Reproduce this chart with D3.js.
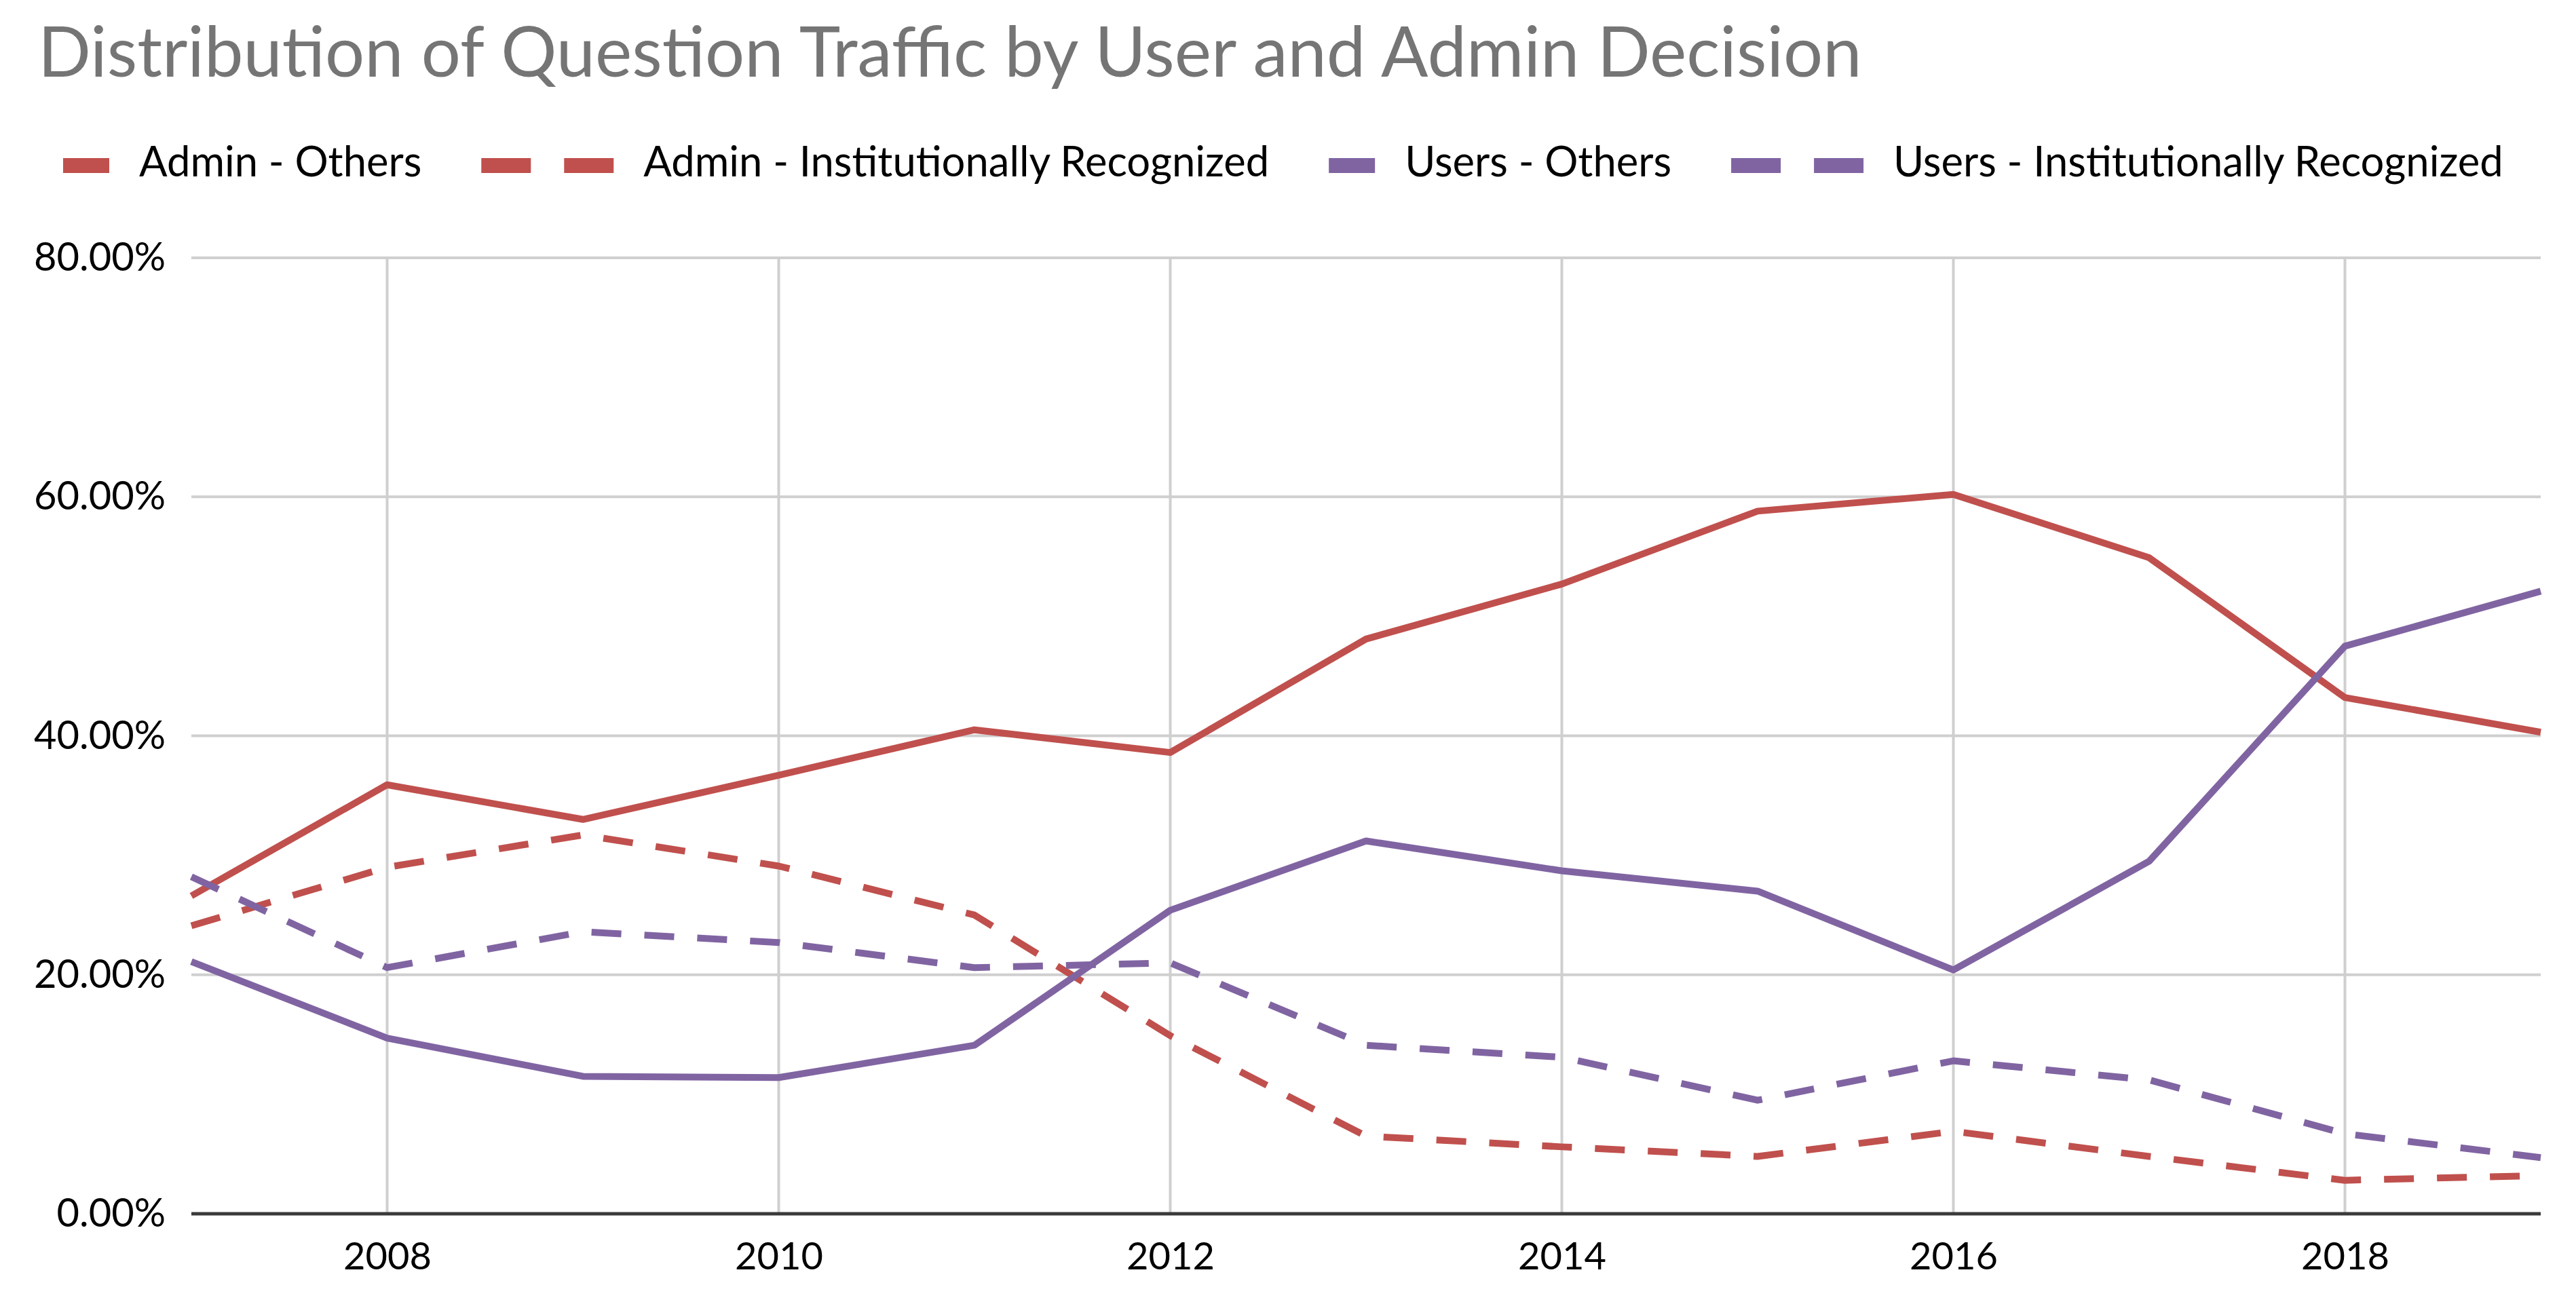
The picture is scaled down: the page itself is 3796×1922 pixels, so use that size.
<!DOCTYPE html>
<html>
<head>
<meta charset="utf-8">
<script src="https://cdn.jsdelivr.net/npm/d3@7"></script>
<style>
  body { margin: 0; background: #fff; }
  text { font-family: Lato, "Open Sans", sans-serif; }
</style>
</head>
<body>
<div id="chart"></div>
<script>
  // Chart values.
  var YEARS = [2007, 2008, 2009, 2010, 2011, 2012, 2013, 2014, 2015, 2016, 2017, 2018, 2019];
  var ADMIN_OTHERS = [26.6, 35.9, 33.0, 36.7, 40.5, 38.6, 48.1, 52.7, 58.8, 60.2, 54.9, 43.2, 40.3];
  var ADMIN_RECOGNIZED = [24.1, 29.0, 31.7, 29.1, 25.0, 14.9, 6.5, 5.6, 4.8, 6.9, 4.8, 2.8, 3.2];
  var USERS_OTHERS = [21.1, 14.7, 11.5, 11.4, 14.1, 25.4, 31.2, 28.7, 27.0, 20.4, 29.5, 47.5, 52.1];
  var USERS_RECOGNIZED = [28.2, 20.6, 23.6, 22.7, 20.6, 21.0, 14.1, 13.1, 9.5, 12.8, 11.2, 6.7, 4.7];
  var SERIES_NAMES = ['Admin - Others', 'Admin - Institutionally Recognized',
                      'Users - Others', 'Users - Institutionally Recognized'];
  var X_TICKS = [2008, 2010, 2012, 2014, 2016, 2018];
  var Y_TICKS = [0, 20, 40, 60, 80];
  var TITLE = 'Distribution of Question Traffic by User and Admin Decision';

  // Component dimensions.
  var WIDTH = 3796;
  var HEIGHT = 1922;
  var PLOT_LEFT = 282;
  var PLOT_RIGHT = 3744;
  var PLOT_TOP = 380;
  var PLOT_BOTTOM = 1789;

  // Palette.
  var RED = '#c0504d';
  var PURPLE = '#8064a2';
  var DASH = '44 34';

  var series = [
    {name: SERIES_NAMES[0], values: ADMIN_OTHERS, color: RED, dashed: false},
    {name: SERIES_NAMES[1], values: ADMIN_RECOGNIZED, color: RED, dashed: true},
    {name: SERIES_NAMES[2], values: USERS_OTHERS, color: PURPLE, dashed: false},
    {name: SERIES_NAMES[3], values: USERS_RECOGNIZED, color: PURPLE, dashed: true}
  ];

  // Font size that makes a text node fill the given width.
  function fitSize(node, targetWidth) {
    var sel = d3.select(node);
    var old = sel.attr('font-size');
    sel.attr('font-size', 100);
    var w = node.getComputedTextLength();
    sel.attr('font-size', old);
    return 100 * targetWidth / w;
  }

  function main() {
    var svg = d3.select('#chart').append('svg')
      .attr('width', WIDTH)
      .attr('height', HEIGHT);
    svg.append('rect').attr('width', WIDTH).attr('height', HEIGHT).attr('fill', '#fff');

    var x = d3.scaleLinear().domain([YEARS[0], YEARS[YEARS.length - 1]])
      .range([PLOT_LEFT, PLOT_RIGHT]);
    var y = d3.scaleLinear().domain([0, 80]).range([PLOT_BOTTOM, PLOT_TOP]);

    // Title
    var title = svg.append('text')
      .attr('x', 56)
      .attr('y', 113)
      .attr('fill', '#757575')
      .text(TITLE);
    title.attr('font-size', fitSize(title.node(), 2688));

    // Grid
    svg.append('g').selectAll('line.hgrid')
      .data(Y_TICKS.slice(1))
    .enter().append('line')
      .attr('x1', PLOT_LEFT).attr('x2', PLOT_RIGHT)
      .attr('y1', y).attr('y2', y)
      .attr('stroke', '#cfcfcf').attr('stroke-width', 4);
    svg.append('g').selectAll('line.vgrid')
      .data(X_TICKS)
    .enter().append('line')
      .attr('x1', x).attr('x2', x)
      .attr('y1', PLOT_TOP).attr('y2', PLOT_BOTTOM)
      .attr('stroke', '#cfcfcf').attr('stroke-width', 4);

    // Y axis labels; sized on the widest one (80.00%).
    var yAxis = d3.axisLeft(y).tickValues(Y_TICKS).tickSize(0).tickPadding(38)
      .tickFormat(function(d) { return d.toFixed(2) + '%'; });
    var yg = svg.append('g').attr('transform', 'translate(' + PLOT_LEFT + ',0)').call(yAxis);
    yg.select('.domain').remove();
    var yTexts = yg.selectAll('.tick text').attr('fill', '#000').attr('font-family', 'Lato, sans-serif');
    var ySize = fitSize(yTexts.nodes()[yTexts.size() - 1], 194);
    yTexts.attr('font-size', ySize);

    // X axis
    var xAxis = d3.axisBottom(x).tickValues(X_TICKS).tickSize(0).tickPadding(42)
      .tickFormat(d3.format('d'));
    var xg = svg.append('g').attr('transform', 'translate(0,' + PLOT_BOTTOM + ')').call(xAxis);
    xg.select('.domain').remove();
    var xTexts = xg.selectAll('.tick text').attr('fill', '#000').attr('font-family', 'Lato, sans-serif');
    xTexts.attr('font-size', fitSize(xTexts.node(), 130));
    svg.append('line')
      .attr('x1', PLOT_LEFT).attr('x2', PLOT_RIGHT)
      .attr('y1', PLOT_BOTTOM).attr('y2', PLOT_BOTTOM)
      .attr('stroke', '#3a3a3a').attr('stroke-width', 5);

    // Lines
    var line = d3.line()
      .x(function(d, i) { return x(YEARS[i]); })
      .y(function(d) { return y(d); });
    svg.append('g').selectAll('path.series')
      .data(series)
    .enter().append('path')
      .attr('class', 'series')
      .attr('d', function(s) { return line(s.values); })
      .attr('fill', 'none')
      .attr('stroke', function(s) { return s.color; })
      .attr('stroke-width', 10)
      .attr('stroke-linejoin', 'round')
      .attr('stroke-dasharray', function(s) { return s.dashed ? DASH : null; });

    // Legend, laid out left to right.
    var legend = svg.append('g').attr('transform', 'translate(0,244)');
    var probe = legend.append('text').text(SERIES_NAMES[1]);
    var legendSize = fitSize(probe.node(), 922);
    probe.remove();
    var lx = 93;
    series.forEach(function(s) {
      var g = legend.append('g');
      if (s.dashed) {
        g.append('rect').attr('x', lx).attr('y', -11).attr('width', 73).attr('height', 22).attr('fill', s.color);
        g.append('rect').attr('x', lx + 122).attr('y', -11).attr('width', 73).attr('height', 22).attr('fill', s.color);
        lx += 195;
      } else {
        g.append('rect').attr('x', lx).attr('y', -11).attr('width', 68).attr('height', 22).attr('fill', s.color);
        lx += 68;
      }
      lx += 44;
      var t = g.append('text').attr('x', lx).attr('y', 16).attr('fill', '#000')
        .attr('font-size', legendSize).text(s.name);
      lx += t.node().getComputedTextLength() + 88;
    });
  }

  main();
</script>
</body>
</html>
